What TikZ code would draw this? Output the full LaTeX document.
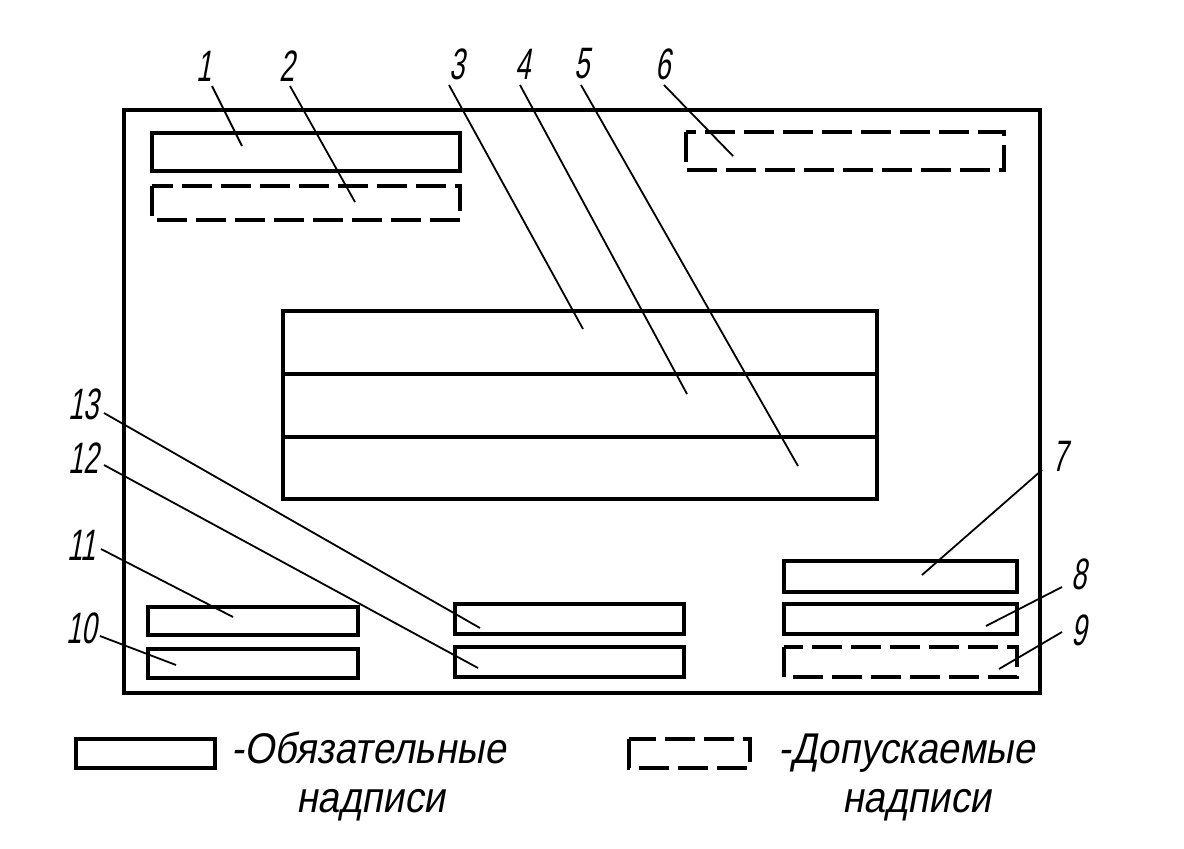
\documentclass[tikz,border=0pt]{standalone}
\usepackage{fontspec}
\newfontfamily\draftfont[FakeStretch=0.62,FakeSlant=0.18]{Liberation Sans}
\newfontfamily\legfont[FakeStretch=0.9,FakeSlant=0.18]{Liberation Sans}
\begin{document}
\begin{tikzpicture}[x=1pt,y=-1pt,
  frame/.style={line width=4pt},
  must/.style={line width=3.3pt},
  may/.style={line width=3.3pt,dash pattern=on 30pt off 9pt},
  leader/.style={line width=1.8pt},
  num/.style={font=\draftfont\fontsize{44}{46}\selectfont,inner sep=0pt},
  legtext/.style={font=\legfont\fontsize{43}{46}\selectfont,inner sep=0pt}]
\useasboundingbox (0,0) rectangle (1184,849);
% main frame
\draw[frame] (124,110) rectangle (1040,693);
% boxes
\draw[must] (152,133) rectangle (460,171);
\draw[may] (152,186) rectangle (460,220);
\draw[may] (686,132) rectangle (1004,170);
\draw[must] (283,311) rectangle (877,499);
\draw[must] (283,374) -- (877,374);
\draw[must] (283,437) -- (877,437);
\draw[must] (148,607) rectangle (358,635);
\draw[must] (148,649) rectangle (358,678);
\draw[must] (455,604) rectangle (684,634);
\draw[must] (455,647) rectangle (684,677);
\draw[must] (784,561) rectangle (1017,592);
\draw[must] (784,604) rectangle (1017,634);
\draw[may] (784,647) rectangle (1017,677);
% labels
\node[num] (l1) at (204,66) {1};
\node[num] (l2) at (287,66) {2};
\node[num] (l3) at (457,64) {3};
\node[num] (l4) at (523,64) {4};
\node[num] (l5) at (582,64) {5};
\node[num] (l6) at (663,64) {6};
\node[num] (l7) at (1060,456) {7};
\node[num] (l8) at (1079,574) {8};
\node[num] (l9) at (1079,630) {9};
\node[num] (l13) at (84,404) {13};
\node[num] (l12) at (84,458) {12};
\node[num] (l11) at (82,545) {11};
\node[num] (l10) at (82,628) {10};
% leader coordinates
\coordinate (a1) at (212,86);   \coordinate (b1) at (242,146);
\coordinate (a2) at (290,86);   \coordinate (b2) at (355,202);
\coordinate (a3) at (449,85);   \coordinate (b3) at (583,329);
\coordinate (a4) at (520,85);   \coordinate (b4) at (687,394);
\coordinate (a5) at (581,85);   \coordinate (b5) at (798,466);
\coordinate (a6) at (664,85);   \coordinate (b6) at (733,156);
\coordinate (a7) at (1042,470); \coordinate (b7) at (922,575);
\coordinate (a8) at (1062,587); \coordinate (b8) at (986,626);
\coordinate (a9) at (1062,632); \coordinate (b9) at (999,669);
\coordinate (a13) at (104,413); \coordinate (b13) at (480,628);
\coordinate (a12) at (104,465); \coordinate (b12) at (478,668);
\coordinate (a11) at (101,549); \coordinate (b11) at (233,617);
\coordinate (a10) at (100,636); \coordinate (b10) at (176,665);
\foreach \i in {1,2,3,4,5,6,7,8,9,10,11,12,13}{
  \draw[leader] (a\i) -- (b\i);
}
% legend
\draw[must] (76,739) rectangle (215,768);
\node[legtext,anchor=base west] (t1) at (231,763) {-Обязательные};
\node[legtext,anchor=base] (t1b) at (371,812) {надписи};
\draw[may] (629,739) rectangle (750,768);
\node[legtext,anchor=base west] (t2) at (778,763) {-Допускаемые};
\node[legtext,anchor=base] (t2b) at (917,812) {надписи};
\end{tikzpicture}
\end{document}
